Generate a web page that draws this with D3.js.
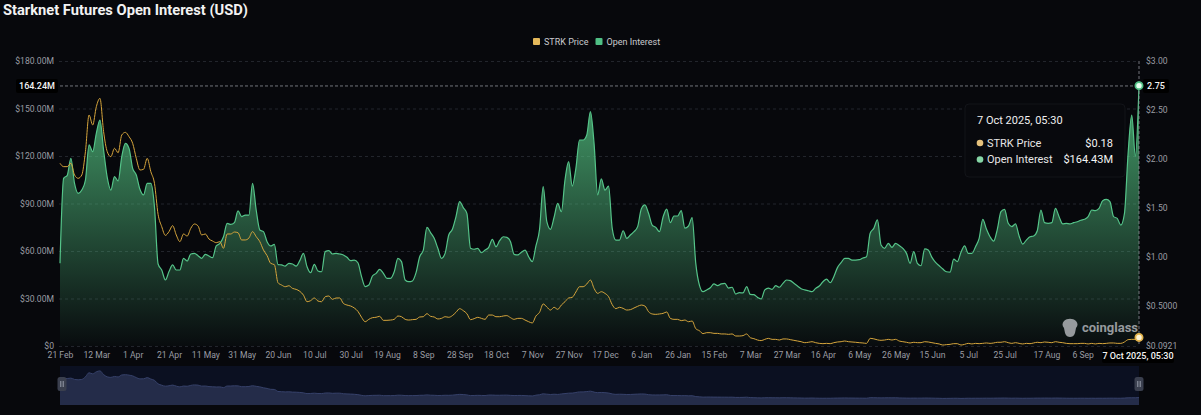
<!DOCTYPE html>
<html><head><meta charset="utf-8">
<script src="https://cdn.jsdelivr.net/npm/d3@7"></script>
<style>
html,body{margin:0;padding:0;background:#07080c;}
svg{display:block;}
text{font-family:Roboto,"Noto Sans",sans-serif;}
</style></head><body>
<svg id="chart" width="1201" height="415"></svg>
<script>
// ---------- DATA ----------
const startDate = "2024-02-21";   // first category, one value every 2 days
const stepDays = 2;
const seriesNames = ["STRK Price", "Open Interest"];

// Open interest, millions USD
const openInterest = [
52.2,105.9,107.8,118.5,102.7,96.4,98.5,104.8,127,122.7,
134.3,142.7,123.8,106.5,98.5,107,104.2,119.6,128,124.8,
112.2,108,99,95.4,102.7,102.7,88,51.8,48,41.7,
47,51.2,48,48,55.4,53.7,58.1,58.5,57,55.4,
57.9,56.8,55.8,63.2,64.8,69,77.5,76.8,77.9,85.3,
81.7,82.7,82.7,102.7,85.9,73.3,72.2,65.9,63.2,64.2,
51.4,51.2,50.5,52.2,51.8,50.5,53.9,58.5,50.1,46.3,
51.6,47.4,46.9,59.6,60.2,
58.1,58.5,58.1,57.5,56,53.9,54.3,52.6,43.8,37.5,
38.5,44.2,45.9,48.4,45.9,42.7,42.7,46.9,55.4,53.3,
41.7,40.6,41.1,46.3,56.4,60.6,74.9,71.6,68,61.7,
55.4,58.5,70.1,73.7,81.7,91.2,87.4,83.8,61.7,61.1,
61.7,58.9,60.6,62.3,67.4,62.7,66.5,69,68.6,65.9,
57.9,57.5,59.2,60.6,56.4,53.3,63.2,73.7,100.6,78.5,
73.7,81.3,90.1,84.8,104.8,116.4,101,112.2,130.1,130.1,
133.3,148,128,95.4,
105.5,98.5,101,74.3,66.9,66.9,72.8,68,70.1,72.2,
75.4,86.5,89.1,83.8,76.4,74.9,72.2,81.5,86.5,77.9,
82.1,82.1,85.5,74.5,75.8,81.1,52.2,38.5,34.3,35.4,
36.8,39.2,38.1,39.2,39.6,36.6,37.1,32.8,33.7,33.5,
37.5,32.6,32.4,30.7,29.7,35.4,36.6,35.8,38.1,37.1,
39.6,41.7,41.3,39.6,37.9,36.2,35.4,34.9,34.3,36.4,
37.9,40.6,42.3,40,43.8,49.5,52.6,55.4,55.4,54.3,
54.3,54.5,55.6,56.4,
71.2,74.3,79.6,63.8,61.7,64.8,62.3,64.8,63.4,61.7,
58.5,52.2,59.6,52.2,50.7,61.3,60.6,56,52.8,50.7,
48.6,46.9,46.7,54.9,53.3,59.2,63.2,58.5,58.5,62.7,
68,80,73.9,69,66.3,73.7,84.8,86.3,77.5,75.4,
77.1,69.5,64.4,66.9,69,69.5,72.8,85.9,77.9,77.5,
77.9,86.9,81.7,77.1,77.5,77.1,77.9,78.5,79.4,80,
81.7,85.9,85.5,86.9,91.8,92.6,91.2,81.7,80.6,76.4,
83.8,121.7,145.9,120,164.43
];

// STRK price, USD
const strkPrice = [
1.956,1.922,1.922,1.956,1.837,1.803,1.837,2.075,2.449,2.347,
2.534,2.619,2.279,2.075,2.024,2.109,2.064,2.245,2.272,2.228,
2.16,2.007,1.888,1.895,2.007,1.871,1.752,1.435,1.31,1.221,
1.259,1.32,1.225,1.157,1.235,1.214,1.293,1.337,1.317,1.225,
1.235,1.184,1.163,1.146,1.157,1.089,1.235,1.235,1.255,1.248,
1.174,1.174,1.194,1.259,1.208,1.157,1.072,1.014,0.935,0.922,
0.738,0.714,0.697,0.707,0.68,0.67,0.65,0.612,0.544,0.555,
0.582,0.551,0.544,0.595,0.602,
0.568,0.582,0.582,0.527,0.51,0.5,0.48,0.446,0.385,0.34,
0.364,0.381,0.385,0.395,0.354,0.354,0.357,0.364,0.398,0.391,
0.364,0.357,0.361,0.364,0.388,0.391,0.422,0.395,0.388,0.368,
0.374,0.391,0.385,0.402,0.436,0.473,0.453,0.422,0.361,0.371,
0.385,0.374,0.364,0.408,0.408,0.391,0.391,0.398,0.402,0.381,
0.364,0.374,0.374,0.357,0.34,0.327,0.398,0.436,0.521,0.49,
0.459,0.487,0.466,0.51,0.544,0.582,0.589,0.643,0.697,0.697,
0.725,0.765,0.68,0.629,
0.646,0.629,0.595,0.514,0.473,0.487,0.476,0.459,0.463,0.48,
0.497,0.51,0.5,0.442,0.419,0.415,0.419,0.425,0.439,0.374,
0.364,0.364,0.351,0.357,0.34,0.347,0.269,0.248,0.218,0.228,
0.228,0.221,0.221,0.215,0.215,0.211,0.215,0.194,0.194,0.198,
0.215,0.177,0.167,0.153,0.147,0.16,0.17,0.16,0.16,0.153,
0.164,0.164,0.157,0.15,0.143,0.136,0.126,0.13,0.136,0.126,
0.119,0.116,0.119,0.116,0.126,0.133,0.136,0.143,0.136,0.133,
0.13,0.126,0.123,0.119,
0.17,0.165,0.155,0.15,0.153,0.16,0.153,0.16,0.143,0.136,
0.13,0.123,0.13,0.126,0.126,0.136,0.133,0.126,0.119,0.113,
0.102,0.106,0.109,0.116,0.116,0.102,0.109,0.119,0.113,0.119,
0.116,0.119,0.123,0.119,0.123,0.13,0.13,0.136,0.126,0.119,
0.126,0.119,0.113,0.119,0.116,0.123,0.13,0.126,0.133,0.13,
0.126,0.136,0.13,0.126,0.119,0.116,0.116,0.116,0.119,0.119,
0.113,0.119,0.113,0.119,0.116,0.119,0.123,0.123,0.119,0.119,
0.133,0.157,0.16,0.16,0.18
];

const leftTicks = [0, 30, 60, 90, 120, 150, 180];
const leftTickLabels = ["$0", "$30.00M", "$60.00M", "$90.00M", "$120.00M", "$150.00M", "$180.00M"];
const rightTicks = [0.0921, 0.5, 1, 1.5, 2, 2.5, 3];
const rightTickLabels = ["$0.0921", "$0.5000", "$1.00", "$1.50", "$2.00", "$2.50", "$3.00"];
const xTickDates = ["2024-02-21","2024-03-12","2024-04-01","2024-04-21","2024-05-11","2024-05-31","2024-06-20","2024-07-10","2024-07-30","2024-08-19","2024-09-08","2024-09-28","2024-10-18","2024-11-07","2024-11-27","2024-12-17","2025-01-06","2025-01-26","2025-02-15","2025-03-07","2025-03-27","2025-04-16","2025-05-06","2025-05-26","2025-06-15","2025-07-05","2025-07-25","2025-08-17","2025-09-06"];
const xTickLabels = ["21 Feb","12 Mar","1 Apr","21 Apr","11 May","31 May","20 Jun","10 Jul","30 Jul","19 Aug","8 Sep","28 Sep","18 Oct","7 Nov","27 Nov","17 Dec","6 Jan","26 Jan","15 Feb","7 Mar","27 Mar","16 Apr","6 May","26 May","15 Jun","5 Jul","25 Jul","17 Aug","6 Sep"];
const pointerOI = 164.24;           // crosshair level (left axis)
const tooltipTitle = "7 Oct 2025, 05:30";
const tooltipPrice = "$0.18";
const tooltipOI = "$164.43M";

// ---------- CHART ----------
const svg = d3.select("#chart");
const L = 60, R = 1139, T = 61, B = 346;
const C = {bg:"#07080c", grid:"#22252c", axis:"#9a9ca3", green:"#55c489", yellow:"#d6a53c"};

svg.append("rect").attr("width",1201).attr("height",415).attr("fill",C.bg);

const parse = d3.utcParse("%Y-%m-%d");
const t0 = parse(startDate);
const dates = openInterest.map((_, i) => d3.utcDay.offset(t0, i * stepDays));
const data = dates.map((d, i) => ({date: d, oi: openInterest[i], price: strkPrice[i]}));

const x = d3.scaleUtc().domain(d3.extent(dates)).range([L, R]);
const y = d3.scaleLinear().domain([0, 180]).range([B, T]);
const yP = d3.scaleLinear().domain([0.0921, 3]).range([B, T]);

// title
svg.append("text").attr("x", 3).attr("y", 15)
  .attr("font-family", "'Liberation Sans', Arial, sans-serif")
  .attr("font-weight", 700).attr("font-size", 15.5).attr("fill", "#f2f2f2")
  .attr("textLength", 245).attr("lengthAdjust", "spacingAndGlyphs")
  .text("Starknet Futures Open Interest (USD)");

// legend
const legendX = [533, 595.5];
seriesNames.forEach((n, i) => {
  const g = svg.append("g").attr("transform", `translate(${legendX[i]},38)`);
  g.append("rect").attr("width", 7).attr("height", 7).attr("rx", 1).attr("fill", i ? "#4fbf84" : "#e4b85a");
  g.append("text").attr("x", 11).attr("y", 6.8).attr("font-size", 9).attr("fill", "#c9cace").text(n);
});

// grid
svg.append("g").selectAll("line").data(leftTicks).join("line")
  .attr("x1", L - 1).attr("x2", R).attr("y1", d => y(d) + 0.5).attr("y2", d => y(d) + 0.5)
  .attr("stroke", C.grid).attr("stroke-dasharray", "3,3");

// axes
const gl = svg.append("g").attr("transform", `translate(${L - 6},0)`)
  .call(d3.axisLeft(y).tickValues(leftTicks).tickFormat((d, i) => leftTickLabels[i]).tickSize(0).tickPadding(0));
const gr = svg.append("g").attr("transform", `translate(1146,0)`)
  .call(d3.axisRight(yP).tickValues(rightTicks).tickFormat((d, i) => rightTickLabels[i]).tickSize(0).tickPadding(0));
const gb = svg.append("g").attr("transform", `translate(0,351.5)`)
  .call(d3.axisBottom(x).tickValues(xTickDates.map(parse)).tickFormat((d, i) => xTickLabels[i]).tickSize(0).tickPadding(0));
[gl, gr, gb].forEach(g => {
  g.select(".domain").remove();
  g.selectAll("text").attr("font-size", 8.6).attr("fill", C.axis).attr("font-family", "Roboto, sans-serif");
});

// area gradient
const defs = svg.append("defs");
const grad = defs.append("linearGradient").attr("id", "oiGrad").attr("gradientUnits", "userSpaceOnUse")
  .attr("x1", 0).attr("x2", 0).attr("y1", y(d3.max(openInterest))).attr("y2", B);
grad.append("stop").attr("offset", 0).attr("stop-color", "#54c482").attr("stop-opacity", 0.82);
grad.append("stop").attr("offset", 1).attr("stop-color", "#54c482").attr("stop-opacity", 0.02);

const curve = d3.curveMonotoneX;
svg.append("path").datum(data)
  .attr("d", d3.area().x(d => x(d.date)).y0(B).y1(d => y(d.oi)).curve(curve))
  .attr("fill", "url(#oiGrad)");
svg.append("path").datum(data)
  .attr("d", d3.line().x(d => x(d.date)).y(d => y(d.oi)).curve(curve))
  .attr("fill", "none").attr("stroke", C.green).attr("stroke-width", 1.2);
svg.append("path").datum(data)
  .attr("d", d3.line().x(d => x(d.date)).y(d => yP(d.price)).curve(curve))
  .attr("fill", "none").attr("stroke", C.yellow).attr("stroke-width", 1);

// watermark
const wm = svg.append("g").attr("fill", "#c4c6cb").attr("opacity", 0.75);
wm.append("path").attr("transform", "translate(1070,328)")
  .attr("d", "M-6,-7 C-3,-10 3,-10 6,-7 C8,-5 8,-2 6,0 L5,5 C4,8 2,9 0,9 C-2,9 -4,8 -5,5 L-6,0 C-8,-2 -8,-5 -6,-7 Z");
wm.append("text").attr("x", 1082).attr("y", 332).attr("font-size", 13).attr("font-weight", 700)
  .attr("font-family", "'Open Sans', Roboto, sans-serif").text("coinglass");

// crosshair
const last = data[data.length - 1];
const cy = y(pointerOI);
svg.append("line").attr("x1", L).attr("x2", R).attr("y1", cy).attr("y2", cy)
  .attr("stroke", "#8d9098").attr("stroke-dasharray", "3,2").attr("stroke-width", 0.8);
svg.append("line").attr("x1", x(last.date)).attr("x2", x(last.date)).attr("y1", T).attr("y2", B)
  .attr("stroke", "#8d9098").attr("stroke-dasharray", "3,2").attr("stroke-width", 0.8);

function tag(cx, cyy, txt, anchor, w) {
  const g = svg.append("g");
  const x0 = anchor === "end" ? cx - w : anchor === "middle" ? cx - w / 2 : cx;
  g.append("rect").attr("x", x0).attr("y", cyy - 7).attr("width", w).attr("height", 14).attr("rx", 2).attr("fill", "#000");
  g.append("text").attr("x", x0 + w / 2).attr("y", cyy + 3.2).attr("text-anchor", "middle")
    .attr("font-size", 9).attr("font-weight", 500).attr("fill", "#f4f4f4").text(txt);
}
tag(L - 2, cy, d3.format(".2f")(pointerOI) + "M", "end", 42);
tag(1143, cy, d3.format(".2f")(yP.invert(cy)), "start", 26);
tag(x(last.date) - 1, 356, tooltipTitle, "middle", 72);

// end markers
svg.append("circle").attr("cx", x(last.date)).attr("cy", y(last.oi)).attr("r", 3.6)
  .attr("fill", "#e6fff0").attr("stroke", "#4fbf84").attr("stroke-width", 1.8);
svg.append("circle").attr("cx", x(last.date)).attr("cy", yP(last.price)).attr("r", 3.6)
  .attr("fill", "#fff4d6").attr("stroke", "#e2b24a").attr("stroke-width", 1.8);

// tooltip
const tip = svg.append("g").attr("transform", "translate(965,104)");
tip.append("rect").attr("width", 160).attr("height", 73).attr("rx", 4)
  .attr("fill", "#08090d").attr("stroke", "#121419");
tip.append("text").attr("x", 12).attr("y", 20).attr("font-size", 11).attr("fill", "#f0f0f0").text(tooltipTitle);
const rows = [[seriesNames[0], tooltipPrice, "#e6c27c"], [seriesNames[1], tooltipOI, "#86d6a6"]];
rows.forEach((r, i) => {
  const yy = 39 + i * 16.5;
  tip.append("circle").attr("cx", 15).attr("cy", yy).attr("r", 3.3).attr("fill", r[2]);
  tip.append("text").attr("x", 22).attr("y", yy + 3.8).attr("font-size", 11).attr("fill", "#e6e6e6").text(r[0]);
  tip.append("text").attr("x", 148).attr("y", yy + 3.8).attr("text-anchor", "end").attr("font-size", 11)
    .attr("fill", "#f4f4f4").text(r[1]);
});

// data zoom slider
const sy = d3.scaleLinear().domain([-0.5, 2.7]).range([405, 370]);
svg.append("rect").attr("x", L).attr("y", 366).attr("width", R - L).attr("height", 39).attr("fill", "#0b1021");
svg.append("path").datum(data)
  .attr("d", d3.area().x(d => x(d.date)).y0(405).y1(d => sy(d.price)).curve(curve))
  .attr("fill", "#242c49");
svg.append("path").datum(data)
  .attr("d", d3.line().x(d => x(d.date)).y(d => sy(d.price)).curve(curve))
  .attr("fill", "none").attr("stroke", "#36416a").attr("stroke-width", 1);
[x(dates[0]) + 2, x(last.date)].forEach(hx => {
  const g = svg.append("g").attr("transform", `translate(${hx},384)`);
  g.append("rect").attr("x", -4.5).attr("y", -7).attr("width", 9).attr("height", 14).attr("rx", 2.5).attr("fill", "#3a3f4e");
  g.append("line").attr("x1", -1.2).attr("x2", -1.2).attr("y1", -3).attr("y2", 3).attr("stroke", "#9aa0ad");
  g.append("line").attr("x1", 1.2).attr("x2", 1.2).attr("y1", -3).attr("y2", 3).attr("stroke", "#9aa0ad");
});
</script>
</body></html>
